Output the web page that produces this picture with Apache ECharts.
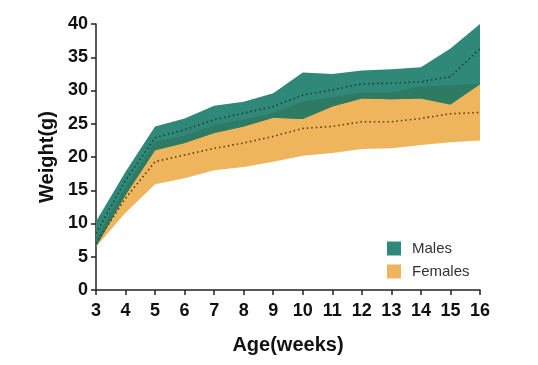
<!DOCTYPE html>
<html>
<head>
<meta charset="utf-8">
<script src="https://cdn.jsdelivr.net/npm/echarts@6/dist/echarts.min.js"></script>
<style>html,body{margin:0;padding:0;background:#fff}#c{width:538px;height:365px}</style>
</head>
<body>
<div id="c"></div>
<script>
var weeks = ['3','4','5','6','7','8','9','10','11','12','13','14','15','16'];
var maleHigh = [10.3,17.8,24.6,25.8,27.7,28.3,29.6,32.7,32.5,33.0,33.2,33.5,36.3,40.0];
var maleLow  = [6.5,14.3,21.0,22.1,23.6,24.6,25.9,25.7,27.6,28.8,28.7,28.8,27.9,30.9];
var maleMean = [8.5,16.5,22.9,24.1,25.6,26.6,27.6,29.3,30.1,31.0,31.1,31.3,32.1,36.3];
var femHigh  = [7.8,15.5,22.3,23.2,24.8,25.6,26.6,28.3,29.0,29.7,29.7,30.6,30.8,31.0];
var femLow   = [6.5,11.6,15.9,16.8,18.0,18.5,19.3,20.2,20.6,21.2,21.3,21.8,22.2,22.5];
var femMean  = [7.0,13.8,19.3,20.3,21.3,22.1,23.1,24.3,24.6,25.3,25.3,25.8,26.5,26.7];

var diff = function(a,b){ return a.map(function(v,i){ return Math.max(0, +(v - b[i]).toFixed(2)); }); };
var teal = '#2f8878', orange = '#efb55c', overlap = '#2e7a62';
var FONT = 'Liberation Sans, Arial, sans-serif';

function baseLine(name, stack, data){
  return {name:name, type:'line', stack:stack, data:data, symbol:'none', silent:true,
          lineStyle:{opacity:0}, itemStyle:{color:'transparent'}};
}
function band(name, stack, data, color){
  return {name:name, type:'line', stack:stack, data:data, symbol:'none', silent:true,
          lineStyle:{opacity:0}, itemStyle:{color:color}, areaStyle:{color:color, opacity:1}};
}
var chart = echarts.init(document.getElementById('c'));
chart.setOption({
  animation:false,
  grid:{left:96, right:58, top:24, bottom:75},
  legend:{
    orient:'vertical', left:382, top:236, itemWidth:14, itemHeight:14, itemGap:8,
    icon:'rect', data:['Males','Females'],
    textStyle:{fontFamily:FONT, fontSize:15, color:'#333', padding:[0,0,0,6]}
  },
  xAxis:{
    type:'category', data:weeks, boundaryGap:false,
    name:'Age(weeks)', nameLocation:'middle', nameGap:45,
    nameTextStyle:{fontFamily:FONT, fontWeight:'bold', fontSize:20, color:'#111'},
    axisLine:{lineStyle:{color:'#222', width:1.5}},
    axisTick:{alignWithLabel:true, length:5, lineStyle:{color:'#222', width:1.5}},
    axisLabel:{fontFamily:FONT, fontWeight:'bold', fontSize:18, color:'#111', margin:12, interval:0},
    splitLine:{show:false}
  },
  yAxis:{
    type:'value', min:0, max:40, interval:5,
    name:'Weight(g)', nameLocation:'middle', nameGap:37, nameRotate:90,
    nameTextStyle:{fontFamily:FONT, fontWeight:'bold', fontSize:20, color:'#111'},
    axisLine:{show:true, lineStyle:{color:'#222', width:1.5}},
    axisTick:{show:true, length:5, lineStyle:{color:'#222', width:1.5}},
    axisLabel:{fontFamily:FONT, fontWeight:'bold', fontSize:18, color:'#111', margin:8},
    splitLine:{show:false}
  },
  series:[
    baseLine('fbase','f',femLow),
    band('Females','f',diff(femHigh,femLow),orange),
    baseLine('mbase','m',maleLow),
    band('Males','m',diff(maleHigh,maleLow),teal),
    baseLine('obase','o',maleLow),
    band('overlap','o',diff(femHigh,maleLow),overlap),
    {name:'maleMean', type:'line', data:maleMean, symbol:'none', silent:true,
     lineStyle:{color:'#1d3f3a', width:1.6, type:[1.5,3]}},
    {name:'femMean', type:'line', data:femMean, symbol:'none', silent:true,
     lineStyle:{color:'#5a3a12', width:1.6, type:[1.5,3]}}
  ]
});
</script>
</body>
</html>
